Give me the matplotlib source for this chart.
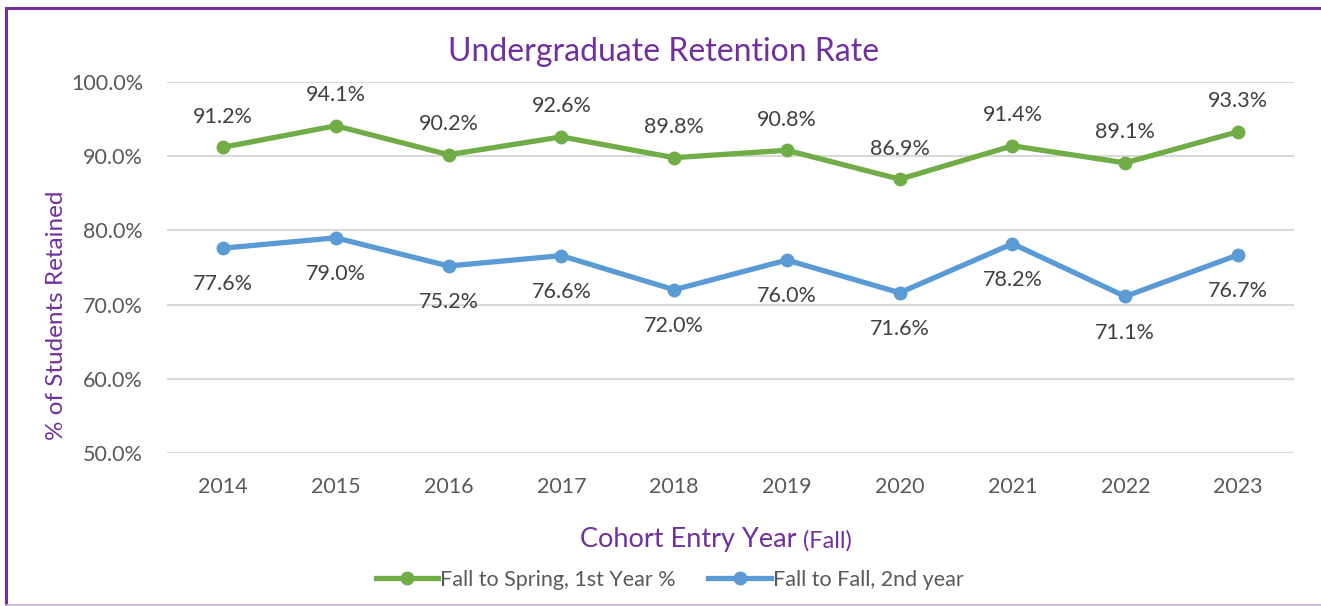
import matplotlib.pyplot as plt

# ========== DATA ==========

years = ["2014", "2015", "2016", "2017", "2018", "2019", "2020", "2021", "2022", "2023"]
fall_to_spring = [91.2, 94.1, 90.2, 92.6, 89.8, 90.8, 86.9, 91.4, 89.1, 93.3]
fall_to_fall = [77.6, 79.0, 75.2, 76.6, 72.0, 76.0, 71.6, 78.2, 71.1, 76.7]
series_names = ["Fall to Spring, 1st Year %", "Fall to Fall, 2nd year"]

# ========== STYLE ==========

plt.rcParams['font.family'] = ['Lato', 'DejaVu Sans']
purple = "#7030A0"
green = "#70AD47"
blue = "#5B9BD5"

fig = plt.figure(figsize=(13.21, 6.06), dpi=100)
ax = fig.add_axes([0.1261, 0.2525, 0.8538, 0.6122])

x = list(range(len(years)))
ax.plot(x, fall_to_spring, color=green, lw=3.8, marker="o", ms=9, label=series_names[0])
ax.plot(x, fall_to_fall, color=blue, lw=3.8, marker="o", ms=9, label=series_names[1])

for xi, v in zip(x, fall_to_spring):
    ax.annotate(f"{v:.1f}%", (xi, v), xytext=(0, 22), textcoords="offset points",
                ha="center", va="center", fontsize=15.5, color="#404040")
for xi, v in zip(x, fall_to_fall):
    ax.annotate(f"{v:.1f}%", (xi, v), xytext=(0, -26), textcoords="offset points",
                ha="center", va="center", fontsize=15.5, color="#404040")

ax.set_xlim(-0.5, len(years) - 0.5)
ax.set_ylim(50, 100)
ax.set_yticks([50, 60, 70, 80, 90, 100])
ax.set_yticklabels([f"{t:.1f}%" for t in [50, 60, 70, 80, 90, 100]])
ax.set_xticks(x)
ax.set_xticklabels(years)
ax.tick_params(length=0, labelsize=15.5, labelcolor="#595959")
ax.tick_params(axis="x", pad=17)
ax.tick_params(axis="y", pad=17)
ax.grid(axis="y", color="#D9D9D9", lw=1.5)
ax.set_axisbelow(True)
for s in ax.spines.values():
    s.set_visible(False)

# ========== LABELING ==========

fig.text(0.5025, 0.915, "Undergraduate Retention Rate", ha="center", va="center",
         fontsize=23, color=purple)
fig.text(0.043, 0.479, "% of Students Retained", rotation=90, ha="center", va="center",
         fontsize=17.5, color=purple)
t1 = fig.text(0.5, 0.098, "Cohort Entry Year ", ha="left", va="baseline",
              fontsize=19.5, color=purple)
t2 = ax.annotate("(Fall)", xy=(1, 0), xycoords=t1, va="bottom", ha="left",
                 fontsize=17, color=purple)
# center the two-part x label
fig.canvas.draw()
r = fig.canvas.get_renderer()
total = t1.get_window_extent(r).width + t2.get_window_extent(r).width
t1.set_position((0.542 - total / 2 / 1321, 0.098))

ax.legend(loc="center", bbox_to_anchor=(0.507, 0.043), bbox_transform=fig.transFigure,
          ncol=2, frameon=False, fontsize=15.5, labelcolor="#595959",
          handlelength=2.9, handletextpad=0.1, columnspacing=1.5)

# border
fig.add_artist(plt.Line2D([0.0045, 0.0045], [0.0, 0.987], color=purple, lw=2.2,
                          transform=fig.transFigure))
fig.add_artist(plt.Line2D([0.0045, 1.0], [0.987, 0.987], color=purple, lw=2.2,
                          transform=fig.transFigure))
fig.add_artist(plt.Line2D([0.0045, 1.0], [0.002, 0.002], color="#C9B3DD", lw=1.2,
                          transform=fig.transFigure))

plt.savefig("out.png", dpi=100)
